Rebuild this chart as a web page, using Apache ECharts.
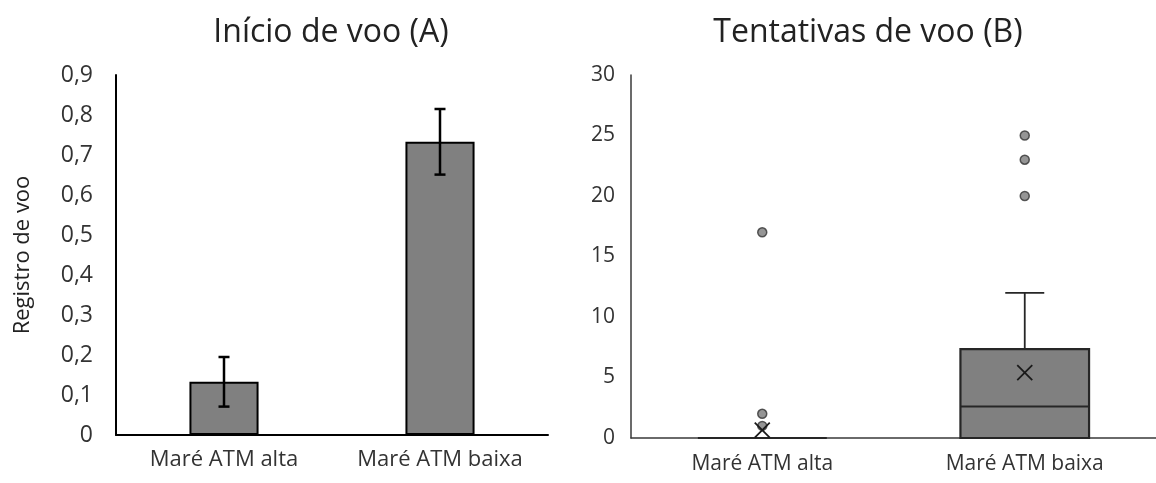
<!DOCTYPE html>
<html>
<head>
<meta charset="utf-8">
<script src="https://cdn.jsdelivr.net/npm/echarts@6/dist/echarts.min.js"></script>
<style>html,body{margin:0;padding:0;background:#fff}#c{width:1156px;height:483px}</style>
</head>
<body>
<div id="c"></div>
<script>
// ---- Data (A): bar chart with error bars ----
const categories = ['Maré ATM alta', 'Maré ATM baixa'];
const flightStartMean = [0.133, 0.733];
const flightStartErr = [0.062, 0.082];
const titleA = 'Início de voo (A)';
const yNameA = 'Registro de voo';

// ---- Data (B): box plot ----
const titleB = 'Tentativas de voo (B)';
const boxMin = [0, 0];
const boxQ1 = [0, 0];
const boxMedian = [0, 2.6];
const boxQ3 = [0, 7.35];
const boxMax = [0, 12];
const boxMean = [0.65, 5.4];
const outlierCat = [0, 0, 0, 1, 1, 1];
const outlierVal = [17, 2, 1, 25, 23, 20];

const FONT = 'Open Sans';
const chart = echarts.init(document.getElementById('c'));

const errData = categories.map((c, i) => [i, flightStartMean[i], flightStartErr[i]]);
const boxData = categories.map((c, i) => [i, boxMin[i], boxQ1[i], boxMedian[i], boxQ3[i], boxMax[i]]);
const meanData = categories.map((c, i) => [i, boxMean[i]]);
const outData = outlierCat.map((c, i) => [c, outlierVal[i]]);

chart.setOption({
  animation: false,
  graphic: [
    {type: 'text', x: 331, y: 33, style: {text: titleA, font: '32px "' + FONT + '"', fill: '#222', align: 'center', verticalAlign: 'middle'}},
    {type: 'text', x: 868, y: 33, style: {text: titleB, font: '32px "' + FONT + '"', fill: '#222', align: 'center', verticalAlign: 'middle'}}
  ],
  grid: [
    {left: 116, right: 608, top: 75, bottom: 48},
    {left: 631, right: 0, top: 75, bottom: 45}
  ],
  xAxis: [
    {gridIndex: 0, type: 'category', data: categories,
     axisLine: {lineStyle: {color: '#000', width: 2}}, axisTick: {show: false},
     axisLabel: {fontFamily: FONT, fontSize: 22, color: '#333', margin: 14}},
    {gridIndex: 1, type: 'category', data: categories,
     axisLine: {lineStyle: {color: '#3a3a3a', width: 1.5}}, axisTick: {show: false},
     axisLabel: {fontFamily: FONT, fontSize: 21, color: '#333', margin: 16}}
  ],
  yAxis: [
    {gridIndex: 0, type: 'value', min: 0, max: 0.9, interval: 0.1,
     axisLine: {show: true, lineStyle: {color: '#000', width: 2}}, axisTick: {show: false},
     splitLine: {show: false},
     axisLabel: {fontFamily: FONT, fontSize: 23, color: '#333', margin: 23,
       formatter: v => v === 0 ? '0' : v.toFixed(1).replace('.', ',')},
     name: yNameA, nameLocation: 'middle', nameRotate: 90, nameGap: 82,
     nameTextStyle: {fontFamily: FONT, fontSize: 22, color: '#222'}},
    {gridIndex: 1, type: 'value', min: 0, max: 30, interval: 5,
     axisLine: {show: true, lineStyle: {color: '#3a3a3a', width: 1.5}}, axisTick: {show: false},
     splitLine: {show: false},
     axisLabel: {fontFamily: FONT, fontSize: 21, color: '#333', margin: 16}}
  ],
  series: [
    {type: 'bar', xAxisIndex: 0, yAxisIndex: 0, data: flightStartMean, barWidth: '32%',
     itemStyle: {color: '#808080', borderColor: '#000', borderWidth: 2}},
    {type: 'custom', xAxisIndex: 0, yAxisIndex: 0, data: errData, z: 5,
     renderItem: function (params, api) {
       const x = api.value(0), m = api.value(1), e = api.value(2);
       const t = api.coord([x, m + e]), b = api.coord([x, m - e]);
       const st = {stroke: '#000', lineWidth: 2.5};
       return {type: 'group', children: [
         {type: 'line', shape: {x1: t[0], y1: t[1], x2: b[0], y2: b[1]}, style: st},
         {type: 'line', shape: {x1: t[0] - 5.5, y1: t[1], x2: t[0] + 5.5, y2: t[1]}, style: st},
         {type: 'line', shape: {x1: b[0] - 5.5, y1: b[1], x2: b[0] + 5.5, y2: b[1]}, style: st}
       ]};
     }},
    {type: 'custom', xAxisIndex: 1, yAxisIndex: 1, data: boxData, z: 3,
     renderItem: function (params, api) {
       const i = api.value(0);
       const w = api.size([1, 0])[0] * 0.49;
       const pMin = api.coord([i, api.value(1)]);
       const pQ1 = api.coord([i, api.value(2)]);
       const pMed = api.coord([i, api.value(3)]);
       const pQ3 = api.coord([i, api.value(4)]);
       const pMax = api.coord([i, api.value(5)]);
       const cx = pQ1[0];
       const st = {stroke: '#262626', lineWidth: 1.8};
       const cap = 19.5;
       return {type: 'group', children: [
         {type: 'line', shape: {x1: cx, y1: pQ3[1], x2: cx, y2: pMax[1]}, style: st},
         {type: 'line', shape: {x1: cx - cap, y1: pMax[1], x2: cx + cap, y2: pMax[1]}, style: st},
         {type: 'line', shape: {x1: cx, y1: pQ1[1], x2: cx, y2: pMin[1]}, style: st},
         {type: 'line', shape: {x1: cx - cap, y1: pMin[1], x2: cx + cap, y2: pMin[1]}, style: st},
         {type: 'rect', shape: {x: cx - w / 2, y: pQ3[1], width: w, height: pQ1[1] - pQ3[1]},
          style: {fill: '#808080', stroke: '#262626', lineWidth: 2.2}},
         {type: 'line', shape: {x1: cx - w / 2, y1: pMed[1], x2: cx + w / 2, y2: pMed[1]}, style: {stroke: '#262626', lineWidth: 2}}
       ]};
     }},
    {type: 'scatter', xAxisIndex: 1, yAxisIndex: 1, data: outData, symbol: 'circle', symbolSize: 9, z: 4,
     itemStyle: {color: '#7a7a7a', borderColor: '#333', borderWidth: 1.5}},
    {type: 'custom', xAxisIndex: 1, yAxisIndex: 1, data: meanData, z: 6,
     renderItem: function (params, api) {
       const p = api.coord([api.value(0), api.value(1)]);
       const h = 7.5;
       const st = {stroke: '#1a1a1a', lineWidth: 1.8};
       return {type: 'group', children: [
         {type: 'line', shape: {x1: p[0] - h, y1: p[1] - h, x2: p[0] + h, y2: p[1] + h}, style: st},
         {type: 'line', shape: {x1: p[0] - h, y1: p[1] + h, x2: p[0] + h, y2: p[1] - h}, style: st}
       ]};
     }}
  ]
});
</script>
</body>
</html>
